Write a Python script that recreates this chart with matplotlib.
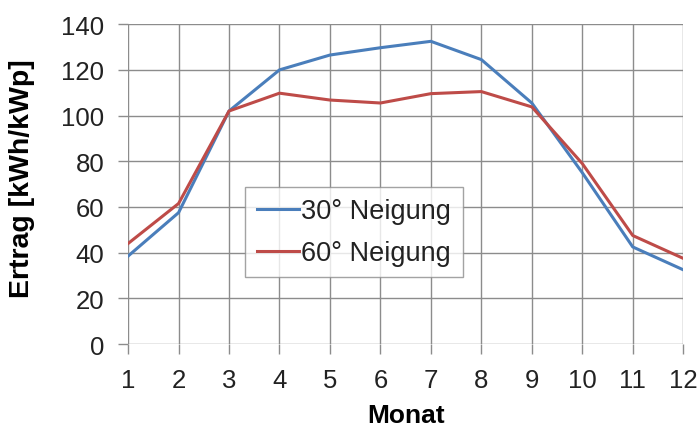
import matplotlib.pyplot as plt

plt.rcParams['font.family'] = ['Liberation Sans', 'DejaVu Sans']

months = list(range(1, 13))
neigung_30 = [38.5, 57.5, 102, 120, 126.5, 129.7, 132.5, 124.5, 105.5, 75, 42.5, 32.5]
neigung_60 = [44, 61.5, 102, 109.8, 106.8, 105.5, 109.6, 110.5, 103.8, 79, 47.5, 37.5]
labels = ['30° Neigung', '60° Neigung']

fig = plt.figure(figsize=(7, 4.27), dpi=100)
ax = fig.add_axes([0.183, 0.192, 0.793, 0.749])

ax.plot(months, neigung_30, color='#4a7ebb', lw=2.2, label=labels[0])
ax.plot(months, neigung_60, color='#be4b48', lw=2.2, label=labels[1])

ax.set_xlim(1, 12)
ax.set_ylim(0, 140)
ax.set_xticks(months)
ax.set_yticks(range(0, 141, 20))
ax.grid(True, color='#8c8c8c', lw=1.0)
ax.set_axisbelow(True)
for s in ax.spines.values():
    s.set_visible(False)
ax.tick_params(length=7, width=1.0, color='#8c8c8c', labelsize=18.5, pad=10,
               labelcolor='#222222')

ax.set_xlabel('Monat', fontsize=19, fontweight='bold')
ax.xaxis.set_label_coords(0.5, -0.183)
ax.set_ylabel('Ertrag [kWh/kWp]', fontsize=20.5, fontweight='bold')
ax.yaxis.set_label_coords(-0.168, 0.52)

leg = ax.legend(loc='upper left', bbox_to_anchor=(0.211, 0.491), fontsize=19.5,
                frameon=True, fancybox=False, edgecolor='#8c8c8c',
                handlelength=1.55, handletextpad=0.1, borderpad=0.42,
                labelspacing=0.58, borderaxespad=0)
leg.get_frame().set_linewidth(1.0)
for t in leg.get_texts():
    t.set_color('#222222')

plt.savefig('out.png', dpi=100)
